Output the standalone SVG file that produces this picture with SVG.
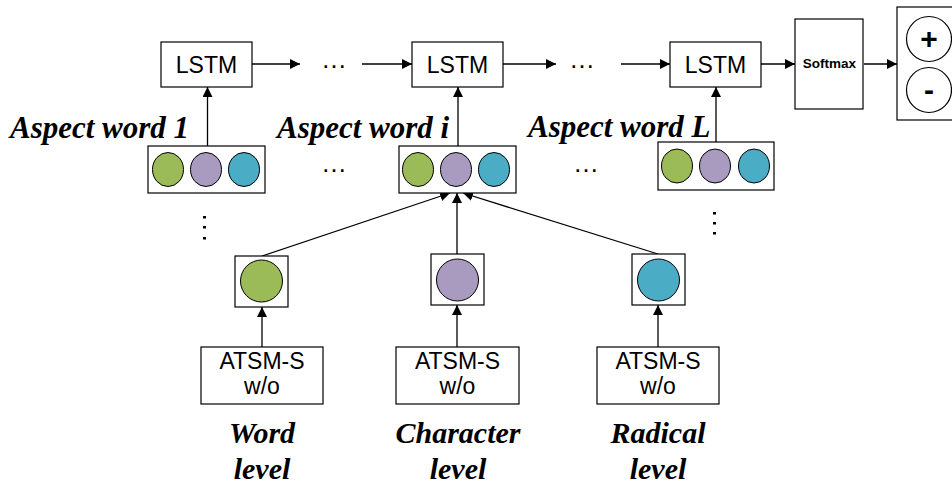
<svg xmlns="http://www.w3.org/2000/svg" width="952" height="485" viewBox="0 0 952 485">
<defs>
<marker id="ah" viewBox="0 0 10 10" refX="10" refY="5" markerWidth="10" markerHeight="10" markerUnits="userSpaceOnUse" orient="auto">
<path d="M0,0 L10,5 L0,10 z" fill="#000"/>
</marker>
</defs>
<style>
.box{fill:#fff;stroke:#000;stroke-width:1.2}
.g{fill:#9BBB59;stroke:#000;stroke-width:1}
.p{fill:#A99BBF;stroke:#000;stroke-width:1}
.t{fill:#4BACC6;stroke:#000;stroke-width:1}
.c{fill:none;stroke:#000;stroke-width:1.2}
.edge{stroke:#000;stroke-width:1.3;fill:none;marker-end:url(#ah)}
.ser{font-family:Liberation Serif, Tinos, DejaVu Serif, Times New Roman, serif;font-weight:bold;font-style:italic}
.san{font-family:Liberation Sans, Arimo, Arial, sans-serif}
</style>
<rect width="952" height="485" fill="#fff"/>

<g id="connectors">
<line class="edge" x1="252" y1="64" x2="300" y2="64"/>
<line class="edge" x1="362" y1="64" x2="412" y2="64"/>
<line class="edge" x1="503" y1="64" x2="556" y2="64"/>
<line class="edge" x1="621" y1="64" x2="670" y2="64"/>
<line class="edge" x1="761" y1="64" x2="795" y2="64"/>
<line class="edge" x1="864" y1="64" x2="897" y2="64"/>
<line class="edge" x1="207.5" y1="146" x2="207.5" y2="87"/>
<line class="edge" x1="458" y1="146" x2="458" y2="87"/>
<line class="edge" x1="716" y1="142" x2="716" y2="87"/>
<line class="edge" x1="262" y1="256" x2="450" y2="193"/>
<line class="edge" x1="457" y1="254" x2="457" y2="193"/>
<line class="edge" x1="658" y1="254" x2="463" y2="193"/>
<line class="edge" x1="262" y1="347" x2="262" y2="307"/>
<line class="edge" x1="457" y1="347" x2="457" y2="305"/>
<line class="edge" x1="658" y1="347" x2="658" y2="305"/>
</g>

<g class="san" fill="#000">
<g id="lstm1"><rect class="box" x="161" y="42" width="91" height="45"/><text x="206.5" y="72.5" font-size="23" text-anchor="middle">LSTM</text></g>
<g id="lstm2"><rect class="box" x="412" y="42" width="91" height="45"/><text x="457.5" y="72.5" font-size="23" text-anchor="middle">LSTM</text></g>
<g id="lstm3"><rect class="box" x="670" y="42" width="91" height="45"/><text x="715.5" y="72.5" font-size="23" text-anchor="middle">LSTM</text></g>
<g id="softmax"><rect class="box" x="795" y="19" width="68" height="90"/><text x="829.5" y="68" font-size="13.5" font-weight="bold" text-anchor="middle">Softmax</text></g>
<g id="output"><rect class="box" x="897" y="7" width="60" height="113"/>
<circle class="c" cx="929" cy="39" r="22.5"/><circle class="c" cx="929" cy="90" r="22.5"/>
<text x="929" y="49" font-size="30" font-weight="bold" text-anchor="middle">+</text>
<text x="929" y="100" font-size="30" font-weight="bold" text-anchor="middle">-</text></g>

<g id="dots-top" font-size="26"><text x="334" y="68" text-anchor="middle">…</text><text x="582" y="68" text-anchor="middle">…</text></g>
<g id="dots-mid" font-size="26"><text x="334" y="172" text-anchor="middle">…</text><text x="586" y="172" text-anchor="middle">…</text></g>
</g>
<g id="dots-vert">
<rect x="203" y="216" width="3" height="2.5"/><rect x="203" y="226" width="3" height="2.5"/><rect x="203" y="237" width="3" height="2.5"/>
<rect x="713" y="212" width="3" height="2.5"/><rect x="713" y="222" width="3" height="2.5"/><rect x="713" y="232" width="3" height="2.5"/>
</g>

<g fill="#000">
<g id="aspect1"><rect class="box" x="148" y="146" width="117" height="47"/>
<ellipse class="g" cx="168" cy="169.5" rx="15.5" ry="17"/><ellipse class="p" cx="206" cy="169.5" rx="15.5" ry="17"/><ellipse class="t" cx="244" cy="169.5" rx="15.5" ry="17"/>
<text class="ser" x="10" y="138" font-size="31">Aspect word 1</text></g>
<g id="aspecti"><rect class="box" x="399" y="146" width="117" height="47"/>
<ellipse class="g" cx="418" cy="169.5" rx="15.5" ry="17"/><ellipse class="p" cx="456" cy="169.5" rx="15.5" ry="17"/><ellipse class="t" cx="494" cy="169.5" rx="15.5" ry="17"/>
<text class="ser" x="277" y="138" font-size="31">Aspect word i</text></g>
<g id="aspectL"><rect class="box" x="658" y="142" width="116" height="48"/>
<ellipse class="g" cx="677" cy="166" rx="15.5" ry="17"/><ellipse class="p" cx="715" cy="166" rx="15.5" ry="17"/><ellipse class="t" cx="754" cy="166" rx="15.5" ry="17"/>
<text class="ser" x="528" y="137" font-size="31">Aspect word L</text></g>
</g>

<g id="emb-word"><rect class="box" x="235" y="256" width="53" height="51"/><circle class="g" cx="261.5" cy="281" r="21"/></g>
<g id="emb-char"><rect class="box" x="431" y="254" width="53" height="51"/><circle class="p" cx="457.5" cy="280" r="21"/></g>
<g id="emb-rad"><rect class="box" x="632" y="254" width="53" height="51"/><circle class="t" cx="658.5" cy="280" r="21"/></g>

<g fill="#000" text-anchor="middle">
<g id="atsm-word"><rect class="box" x="201" y="347" width="122" height="57"/>
<text class="san" x="262" y="368.5" font-size="23">ATSM-S</text><text class="san" x="262" y="394" font-size="23">w/o</text>
<text class="ser" x="262" y="443" font-size="30">Word</text><text class="ser" x="262" y="479" font-size="30">level</text></g>
<g id="atsm-char"><rect class="box" x="396" y="347" width="123" height="57"/>
<text class="san" x="457.5" y="368.5" font-size="23">ATSM-S</text><text class="san" x="457.5" y="394" font-size="23">w/o</text>
<text class="ser" x="458" y="443" font-size="30">Character</text><text class="ser" x="458" y="479" font-size="30">level</text></g>
<g id="atsm-rad"><rect class="box" x="597" y="347" width="122" height="57"/>
<text class="san" x="658" y="368.5" font-size="23">ATSM-S</text><text class="san" x="658" y="394" font-size="23">w/o</text>
<text class="ser" x="658" y="443" font-size="30">Radical</text><text class="ser" x="658" y="479" font-size="30">level</text></g>
</g>
</svg>
